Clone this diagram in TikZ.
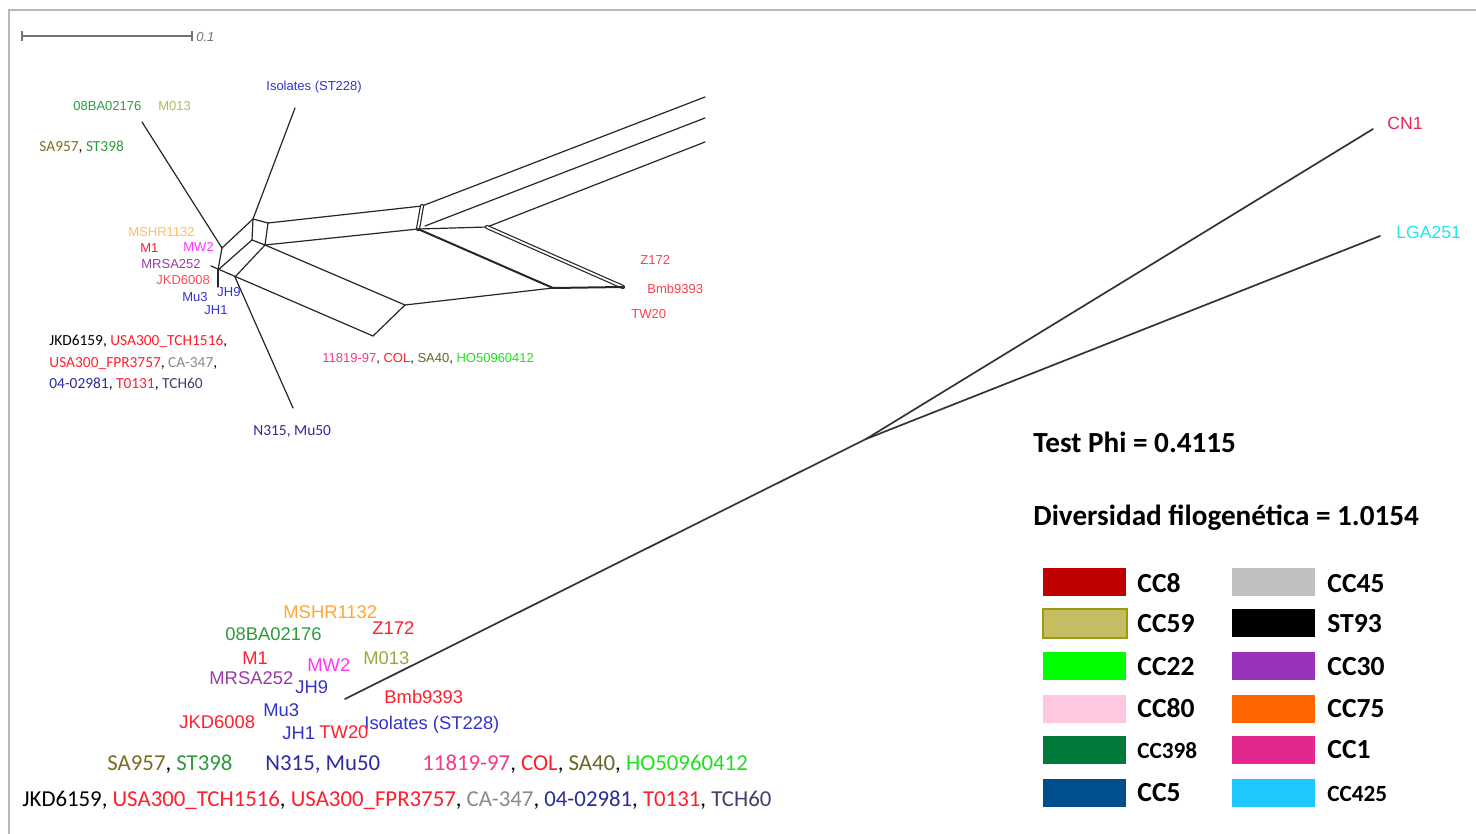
\documentclass[tikz,border=0pt]{standalone}
\usepackage{fontspec}
\usepackage{tkz-euclide}
\setmainfont{Carlito}
\newfontfamily\arialfont{Liberation Sans}

% legend colours
\definecolor{cceight}{HTML}{C00000}
\definecolor{ccfiftynine}{HTML}{C4BD62}
\definecolor{ccfiftynineline}{HTML}{9C9A10}
\definecolor{cctwentytwo}{HTML}{00FF00}
\definecolor{cceighty}{HTML}{FFC8E0}
\definecolor{ccthreeninetyeight}{HTML}{007A3A}
\definecolor{ccfive}{HTML}{004E8C}
\definecolor{ccfortyfive}{HTML}{BFBFBF}
\definecolor{stninetythree}{HTML}{000000}
\definecolor{ccthirty}{HTML}{9933BB}
\definecolor{ccseventyfive}{HTML}{FF6600}
\definecolor{ccone}{HTML}{E3278F}
\definecolor{ccfourtwentyfive}{HTML}{1EC8FF}
% label colours
\definecolor{lblred}{HTML}{FF1E2D}
\definecolor{lblpink}{HTML}{F2398A}
\definecolor{lblorange}{HTML}{FFA733}
\definecolor{lblgreen}{HTML}{2F9A3E}
\definecolor{lblolive}{HTML}{9CA83C}
\definecolor{lblmagenta}{HTML}{FF33FF}
\definecolor{lblpurple}{HTML}{9A3AA6}
\definecolor{lblblue}{HTML}{3333CC}
\definecolor{lblnavy}{HTML}{2B2B9E}
\definecolor{lblbrown}{HTML}{7D6B24}
\definecolor{lblsaforty}{HTML}{6A6526}
\definecolor{lbllime}{HTML}{1EE01E}
\definecolor{lblgray}{HTML}{8A8A8A}
\definecolor{lbltch}{HTML}{4B3B6B}
\definecolor{lblcyan}{HTML}{1FE6F2}
\definecolor{lblcrimson}{HTML}{EE2452}

\begin{document}
\begin{tikzpicture}[x=0.5pt, y=-0.5pt,
    clus/.style={font=\arialfont\fontsize{9.2}{10}\selectfont, anchor=base west, inner sep=0pt},
    tiny/.style={font=\arialfont\fontsize{6.5}{7}\selectfont, anchor=base west, inner sep=0pt},
    cal/.style={font=\fontsize{7.7}{9}\selectfont, anchor=base west, inner sep=0pt},
    row/.style={font=\fontsize{11.4}{13}\selectfont, anchor=base west, inner sep=0pt},
    net/.style={line width=0.6pt, color=black!85},
    trunk/.style={line width=0.85pt, color=black!80},
    swatch/.style={minimum width=41.5pt, minimum height=14pt, inner sep=0pt, anchor=north west},
    key/.style={font=\bfseries\fontsize{13.8}{15}\selectfont, anchor=base west, inner sep=0pt}]
    \useasboundingbox (0,0) rectangle (1476,834);
    % frame
    \draw[black!28, line width=1pt] (9,834) -- (9,10) -- (1476,10);

    % scale bar
    \tkzDefPoints{22/36/sbA, 192/36/sbB}
    \draw[black!55, line width=0.7pt] (sbA) -- (sbB)
        (22,31) -- (22,41) (192,31) -- (192,41);
    \node[tiny, font=\arialfont\itshape\fontsize{6.5}{7}\selectfont, text=black!55] (scale) at (196,42) {0.1};

    % inset network
    \tkzDefPoints{142/122/A1, 222/248/B1, 295/108/I1, 253/219/P1, 268/223/P2,
        265/245/P3, 252/240/P4, 218/270/C1, 218/287/D1, 211/266/E1, 235/277/Q1,
        293/408/N1, 373/336/L1, 405/305/L2, 422/206/R1, 418/229/R2, 425/226/R4,
        487/227/R3, 705/97/T1, 705/118/T2, 705/142/T3, 553/288/S1, 623/287/S2}
    \tkzDrawSegments[net](A1,B1 B1,C1 C1,D1 E1,L1 B1,P1 I1,P1 P1,P2 P2,P3
        P3,P4 P4,P1 C1,P4 Q1,P3 Q1,N1 P2,R1 P3,R2 R1,T1 R4,T2 R3,T3 R2,R3
        P3,L2 L2,S1 L1,L2)
    \tkzDrawSegments[net, double, double distance=0.9pt](R1,R2 R3,S2)
    \tkzDrawSegments[net, line width=1pt](R2,S1 S1,S2)

    \node[tiny, text=lblblue] (iIso) at (266,90.6) {Isolates (ST228)};
    \node[tiny, text=lblgreen] (iBA) at (73,110.6) {08BA02176};
    \node[tiny, text=lblolive!80] (iMO) at (158,110.6) {M013};
    \node[cal] (iSA) at (39,152) {\textcolor{lblbrown}{SA957}, \textcolor{lblgreen}{ST398}};
    \node[tiny, text=lblorange!75] (iMS) at (128,236.6) {MSHR1132};
    \node[tiny, text=lblred] (iMone) at (140,252.6) {M1};
    \node[tiny, text=lblmagenta] (iMW) at (183,251.6) {MW2};
    \node[tiny, text=lblpurple] (iMR) at (141,268.6) {MRSA252};
    \node[tiny, text=lblred!80] (iJK) at (156,284.6) {JKD6008};
    \node[tiny, text=lblblue] (iMu) at (182,301.6) {Mu3};
    \node[tiny, text=lblblue] (iJHn) at (217,296.6) {JH9};
    \node[tiny, text=lblblue] (iJHo) at (204,314.6) {JH1};
    \node[tiny, text=lblred!85] (iZ) at (640,264.6) {Z172};
    \node[tiny, text=lblred!85] (iBmb) at (647,293.6) {Bmb9393};
    \node[tiny, text=lblred!85] (iTW) at (631,318.6) {TW20};
    \node[cal] (iUSAa) at (49,345) {JKD6159, \textcolor{lblred}{USA300\_TCH1516},};
    \node[cal] (iUSAb) at (49,367) {\textcolor{lblred}{USA300\_FPR3757}, \textcolor{lblgray}{CA-347},};
    \node[cal] (iUSAc) at (49,388) {\textcolor{lblnavy}{04-02981}, \textcolor{lblred}{T0131}, \textcolor{lbltch}{TCH60}};
    \node[tiny] (iCOL) at (322,362.6) {\textcolor{lblpink}{11819-97}, \textcolor{lblred}{COL}, \textcolor{lblsaforty}{SA40}, \textcolor{lbllime}{HO50960412}};
    \node[cal, text=lblnavy] (iN) at (253,435) {N315, Mu50};

    % main tree
    \tkzDefPoints{345/699/root, 866/439/fork, 1373/129/cn, 1380/236/lga}
    \tkzDrawSegments[trunk](root,fork fork,cn fork,lga)
    \node[clus, font=\arialfont\fontsize{8.8}{10}\selectfont, text=lblcrimson] (CN1) at (1387,129.4) {CN1};
    \node[clus, font=\arialfont\fontsize{8.8}{10}\selectfont, text=lblcyan] (LGA) at (1396,238.4) {LGA251};

    % collapsed cluster labels
    \node[clus, text=lblorange] (MSHR) at (283,618.6) {MSHR1132};
    \node[clus, text=lblgreen] (BA) at (225,640.6) {08BA02176};
    \node[clus, text=lblred] (Z) at (372,634.6) {Z172};
    \node[clus, text=lblred] (Mone) at (242,664.6) {M1};
    \node[clus, text=lblmagenta] (MW) at (307,671.6) {MW2};
    \node[clus, text=lblolive] (MO) at (363,664.6) {M013};
    \node[clus, text=lblpurple] (MRSA) at (209,684.6) {MRSA252};
    \node[clus, text=lblblue] (JHnine) at (295,693.6) {JH9};
    \node[clus, text=lblred] (Bmb) at (384,703.6) {Bmb9393};
    \node[clus, text=lblblue] (Mu) at (263,716.6) {Mu3};
    \node[clus, text=lblred] (JKD) at (179,728.6) {JKD6008};
    \node[clus, text=lblblue] (Iso) at (364,729.6) {Isolates (ST228)};
    \node[clus, text=lblblue] (JHone) at (282,739.6) {JH1};
    \node[clus, text=lblred] (TW) at (319,738.6) {TW20};

    \node[row] (rowSA) at (107,770) {\textcolor{lblbrown}{SA957}, \textcolor{lblgreen}{ST398}};
    \node[row, text=lblnavy] (rowN) at (265,770) {N315, Mu50};
    \node[row] (rowCOL) at (422,770) {\textcolor{lblpink}{11819-97}, \textcolor{lblred}{COL}, \textcolor{lblsaforty}{SA40}, \textcolor{lbllime}{HO50960412}};
    \node[row] (rowUSA) at (22,806) {JKD6159, \textcolor{lblred}{USA300\_TCH1516}, \textcolor{lblred}{USA300\_FPR3757}, \textcolor{lblgray}{CA-347}, \textcolor{lblnavy}{04-02981}, \textcolor{lblred}{T0131}, \textcolor{lbltch}{TCH60}};

    % statistics
    \node[key, font=\bfseries\fontsize{14.6}{16}\selectfont] (phi) at (1033,452) {Test Phi = 0.4115};
    \node[key, font=\bfseries\fontsize{14.6}{16}\selectfont] (div) at (1033,525) {Diversidad filogenética = 1.0154};

    % legend
    \foreach \y/\base/\lcol/\lname/\lsz/\rcol/\rname/\rsz in {
        568/592/cceight/CC8/13.8/ccfortyfive/CC45/13.8,
        609/632/ccfiftynine/CC59/13.8/stninetythree/ST93/13.8,
        652/675/cctwentytwo/CC22/13.8/ccthirty/CC30/13.8,
        695/717/cceighty/CC80/13.8/ccseventyfive/CC75/13.8,
        736/758/ccthreeninetyeight/CC398/11.6/ccone/CC1/13.8,
        779/801/ccfive/CC5/13.8/ccfourtwentyfive/CC425/11.6} {
        \node[swatch, fill=\lcol] (sw\lname) at (1043,\y) {};
        \node[swatch, fill=\rcol] (sw\rname) at (1232,\y) {};
        \node[key, font=\bfseries\fontsize{\lsz}{15}\selectfont] (lg\lname) at (1137,\base) {\lname};
        \node[key, font=\bfseries\fontsize{\rsz}{15}\selectfont] (lg\rname) at (1327,\base) {\rname};
    }
    \draw[ccfiftynineline, line width=0.8pt] (swCC59.north west) rectangle (swCC59.south east);
\end{tikzpicture}
\end{document}
